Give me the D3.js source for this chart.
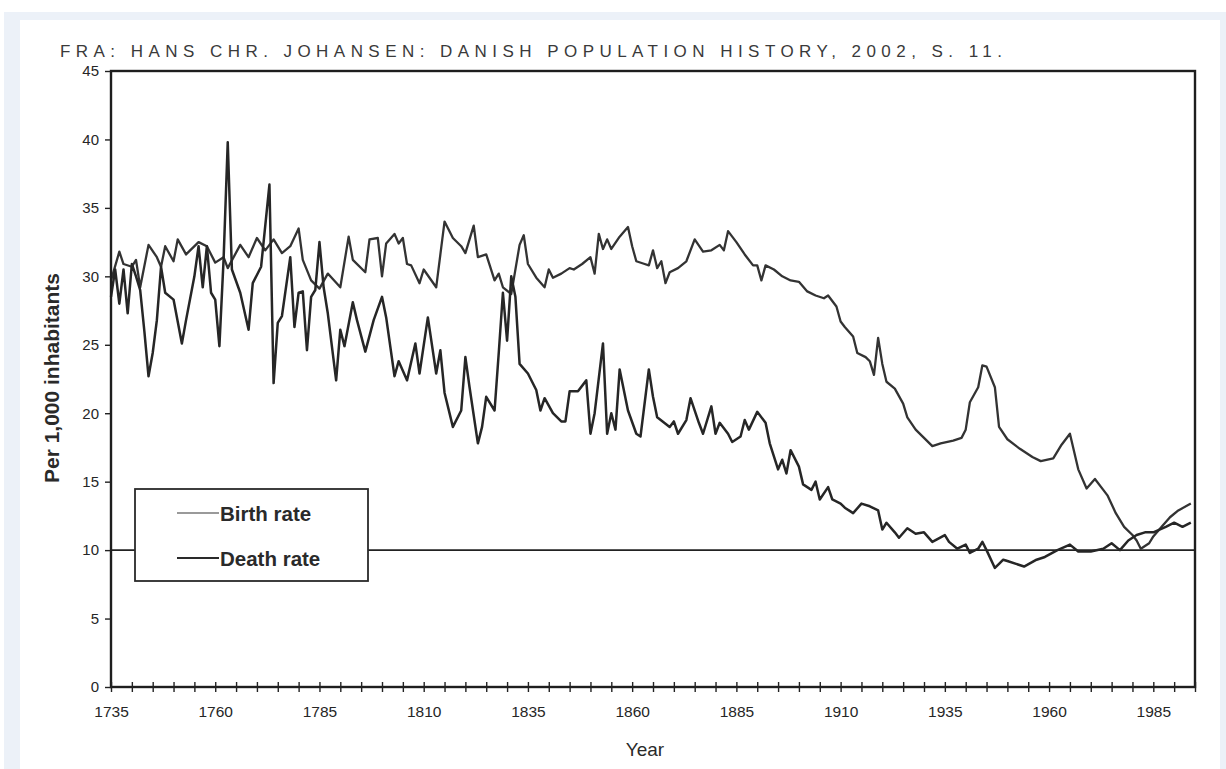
<!DOCTYPE html>
<html>
<head>
<meta charset="utf-8">
<script src="https://cdn.jsdelivr.net/npm/d3@7"></script>
<style>
  html, body { margin: 0; padding: 0; background: #fff; }
  .frame { position: absolute; left: 4px; top: 12px; width: 1222px; height: 757px; background: #ecf1f8; }
  .paper { position: absolute; left: 16px; top: 8px; width: 1200px; height: 749px; background: #fff; }
  svg { position: absolute; left: 0; top: 0; }
  text { font-family: "Liberation Sans", Arial, sans-serif; }
</style>
</head>
<body>
<div class="frame"><div class="paper"></div></div>
<div class="program-canvas"></div>
<script>
// birth rate per 1,000 inhabitants
const birthYears = [1735,1737,1738,1740,1741,1742,1744,1746,1747,1748,1750,1751,1753,1756,1758,1760,1762,1763,1766,1768,
  1770,1772,1774,1776,1778,1780,1781,1783,1785,1787,1790,1792,1793,1796,1797,1799,1800,1801,1803,1804,
  1805,1806,1807,1809,1810,1813,1815,1817,1819,1820,1822,1823,1825,1827,1828,1829,1831,1833,1834,1835,
  1837,1839,1840,1841,1843,1845,1846,1848,1850,1851,1852,1853,1854,1855,1857,1859,1860,1861,1863,1864,
  1865,1866,1867,1868,1869,1871,1873,1875,1877,1879,1881,1882,1883,1885,1887,1889,1890,1891,1892,1894,
  1896,1898,1900,1902,1904,1906,1907,1909,1910,1911,1913,1914,1916,1917,1918,1919,1920,1921,1923,1925,
  1926,1928,1930,1932,1934,1937,1939,1940,1941,1943,1944,1945,1947,1948,1950,1953,1956,1958,1961,1963,
  1965,1967,1969,1971,1973,1974,1976,1978,1980,1981,1982,1984,1985,1987,1989,1991,1994];
const birthRate = [29.7,31.8,30.9,30.7,31.2,29.2,32.3,31.4,30.7,32.2,31.1,32.7,31.6,32.5,32.2,31.0,31.4,30.6,32.3,31.4,
  32.8,31.9,32.7,31.7,32.2,33.5,31.2,29.7,29.1,30.2,29.2,32.9,31.2,30.3,32.7,32.8,30.0,32.4,33.1,32.4,
  32.8,30.9,30.8,29.5,30.5,29.2,34.0,32.8,32.2,31.7,33.7,31.4,31.6,29.7,30.2,29.2,28.7,32.3,33.0,30.9,
  29.9,29.2,30.5,29.9,30.2,30.6,30.5,30.9,31.4,30.2,33.1,32.0,32.7,32.0,32.9,33.6,32.2,31.1,30.9,30.8,
  31.9,30.6,31.1,29.5,30.3,30.6,31.1,32.7,31.8,31.9,32.3,31.9,33.3,32.5,31.6,30.8,30.8,29.7,30.8,30.5,
  30.0,29.7,29.6,28.9,28.6,28.4,28.6,27.8,26.7,26.3,25.6,24.4,24.1,23.8,22.8,25.5,23.6,22.3,21.8,20.7,
  19.7,18.8,18.2,17.6,17.8,18.0,18.2,18.8,20.8,21.9,23.5,23.4,21.9,19.0,18.1,17.4,16.8,16.5,16.7,17.7,
  18.5,15.9,14.5,15.2,14.4,14.0,12.7,11.7,11.1,10.7,10.1,10.5,11.0,11.7,12.4,12.9,13.4];

// death rate per 1,000 inhabitants
const deathYears = [1735,1736,1737,1738,1739,1740,1741,1742,1743,1744,1745,1746,1747,1748,1750,1752,1753,1755,1756,1757,
  1758,1759,1760,1761,1762,1763,1764,1766,1768,1769,1771,1773,1774,1775,1776,1778,1779,1780,1781,1782,
  1783,1784,1785,1786,1787,1789,1790,1791,1793,1794,1796,1798,1800,1801,1803,1804,1806,1808,1809,1811,
  1813,1814,1815,1817,1819,1820,1821,1823,1824,1825,1827,1828,1829,1830,1831,1832,1833,1835,1837,1838,
  1839,1841,1843,1844,1845,1847,1849,1850,1851,1853,1854,1855,1856,1857,1859,1861,1862,1864,1865,1866,
  1869,1870,1871,1873,1874,1876,1877,1879,1880,1881,1883,1884,1886,1887,1888,1890,1892,1893,1895,1896,
  1897,1898,1900,1901,1903,1904,1905,1907,1908,1910,1911,1913,1915,1917,1919,1920,1921,1923,1924,1926,
  1928,1930,1932,1935,1936,1938,1940,1941,1943,1944,1945,1947,1948,1949,1950,1954,1957,1959,1962,1965,
  1967,1970,1973,1975,1977,1979,1981,1983,1985,1988,1990,1992,1994];
const deathRate = [28.5,30.5,28.0,30.5,27.3,30.9,30.0,29.0,26.0,22.7,24.4,26.8,30.7,28.8,28.3,25.1,26.8,30.0,32.2,29.2,
  32.2,28.8,28.3,24.9,31.2,39.8,30.5,28.8,26.1,29.5,30.7,36.7,22.2,26.6,27.1,31.4,26.3,28.8,28.9,24.6,
  28.5,29.0,32.5,29.2,27.3,22.4,26.1,24.9,28.1,26.8,24.5,26.8,28.5,27.0,22.7,23.8,22.4,25.1,22.9,27.0,
  22.9,24.6,21.5,19.0,20.2,24.1,21.9,17.8,19.0,21.2,20.2,24.4,28.8,25.3,30.0,28.5,23.6,22.9,21.7,20.2,
  21.1,20.0,19.4,19.4,21.6,21.6,22.4,18.5,20.0,25.1,18.5,20.0,18.8,23.2,20.2,18.5,18.3,23.2,21.2,19.7,
  19.0,19.4,18.5,19.5,21.1,19.3,18.5,20.5,18.5,19.3,18.5,17.9,18.3,19.5,18.8,20.1,19.3,17.8,15.9,16.6,
  15.6,17.3,16.1,14.8,14.4,15.0,13.7,14.6,13.7,13.4,13.1,12.7,13.4,13.2,12.9,11.5,12.0,11.3,10.9,11.6,
  11.2,11.3,10.6,11.1,10.6,10.1,10.4,9.8,10.1,10.6,10.0,8.7,9.0,9.3,9.2,8.8,9.3,9.5,10.0,10.4,
  9.9,9.9,10.1,10.5,10.0,10.7,11.1,11.3,11.3,11.7,12.0,11.7,12.0];

const seriesNames = ['Birth rate', 'Death rate'];
const yTicks = [0, 5, 10, 15, 20, 25, 30, 35, 40, 45];
const xLabels = [1735, 1760, 1785, 1810, 1835, 1860, 1885, 1910, 1935, 1960, 1985];
const refLine = 10;
const note = 'FRA: HANS CHR. JOHANSEN: DANISH POPULATION HISTORY, 2002, S. 11.';

const W = 1226, H = 769;
const plot = { left: 111, right: 1195, top: 71, bottom: 687 };

const svg = d3.select('.program-canvas')
    .append('svg')
    .attr('width', W)
    .attr('height', H);

const x = d3.scaleLinear().domain([1735, 1995]).range([plot.left, plot.right]);
const y = d3.scaleLinear().domain([0, 45]).range([plot.bottom, plot.top]);

//handwritten note on top
svg.append('text')
    .attr('x', 60).attr('y', 57)
    .attr('textLength', 942)
    .attr('lengthAdjust', 'spacing')
    .attr('font-family', '"DejaVu Sans", sans-serif')
    .attr('font-size', 17)
    .attr('fill', '#3a3a3a')
    .text(note);

//reference line at 10
svg.append('line')
    .attr('x1', plot.left).attr('x2', plot.right)
    .attr('y1', y(refLine)).attr('y2', y(refLine))
    .attr('stroke', '#222').attr('stroke-width', 1.8);

//lines
const line = d3.line()
    .x(d => x(d[0]))
    .y(d => y(d[1]));

const birthData = birthYears.map((yr, i) => [yr, birthRate[i]]);
const deathData = deathYears.map((yr, i) => [yr, deathRate[i]]);

svg.append('path')
    .datum(birthData)
    .attr('d', line)
    .attr('fill', 'none')
    .attr('stroke', '#333')
    .attr('stroke-width', 2.3)
    .attr('stroke-linejoin', 'round');

svg.append('path')
    .datum(deathData)
    .attr('d', line)
    .attr('fill', 'none')
    .attr('stroke', '#262626')
    .attr('stroke-width', 2.5)
    .attr('stroke-linejoin', 'round');

//frame
svg.append('rect')
    .attr('x', plot.left).attr('y', plot.top)
    .attr('width', plot.right - plot.left)
    .attr('height', plot.bottom - plot.top)
    .attr('fill', 'none')
    .attr('stroke', '#1e1e1e')
    .attr('stroke-width', 2.4);

//x axis, ticks every 5 years crossing the axis
const xAxis = svg.append('g')
    .attr('transform', `translate(0, ${plot.bottom})`)
    .call(d3.axisBottom(x)
        .tickValues(d3.range(1735, 1996, 5))
        .tickSize(5)
        .tickFormat(d => xLabels.includes(d) ? d : ''));
xAxis.select('.domain').remove();
xAxis.selectAll('line').attr('y1', -5).attr('y2', 5).attr('stroke', '#222').attr('stroke-width', 1.4);
xAxis.selectAll('text')
    .attr('y', 19)
    .attr('font-size', 15.5)
    .attr('font-family', '"Liberation Sans", Arial, sans-serif')
    .attr('fill', '#262626');

//y axis
const yAxis = svg.append('g')
    .attr('transform', `translate(${plot.left}, 0)`)
    .call(d3.axisLeft(y).tickValues(yTicks).tickSize(6).tickPadding(6));
yAxis.select('.domain').remove();
yAxis.selectAll('line').attr('stroke', '#222').attr('stroke-width', 1.4);
yAxis.selectAll('text')
    .attr('font-size', 15)
    .attr('font-family', '"Liberation Sans", Arial, sans-serif')
    .attr('fill', '#262626');

//axis titles
svg.append('text')
    .attr('transform', 'translate(59, 378) rotate(-90)')
    .attr('text-anchor', 'middle')
    .attr('font-size', 21)
    .attr('font-weight', 'bold')
    .attr('fill', '#2a2a2a')
    .text('Per 1,000 inhabitants');

svg.append('text')
    .attr('x', 645)
    .attr('y', 756)
    .attr('text-anchor', 'middle')
    .attr('font-size', 19)
    .attr('fill', '#2a2a2a')
    .text('Year');

//legend
const legendGroup = svg.append('g')
    .attr('transform', 'translate(135, 489)');

legendGroup.append('rect')
    .attr('width', 233).attr('height', 92)
    .attr('fill', '#fff')
    .attr('stroke', '#2a2a2a')
    .attr('stroke-width', 1.8);

const legendColors = ['#9a9a9a', '#2a2a2a'];
seriesNames.forEach((name, i) => {
    const ly = 24 + i * 45;
    legendGroup.append('line')
        .attr('x1', 42).attr('x2', 84)
        .attr('y1', ly).attr('y2', ly)
        .attr('stroke', legendColors[i])
        .attr('stroke-width', 2);
    legendGroup.append('text')
        .attr('x', 85).attr('y', ly + 8)
        .attr('font-size', 20.5)
        .attr('font-weight', 'bold')
        .attr('fill', '#2a2a2a')
        .text(name);
});
</script>
</body>
</html>
